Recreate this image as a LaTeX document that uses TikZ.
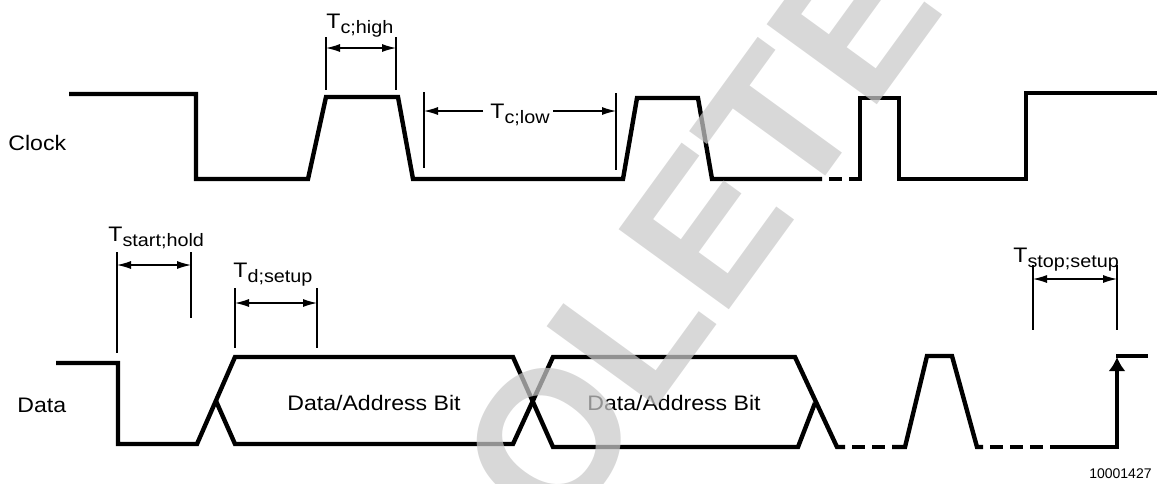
\documentclass[tikz,border=0pt]{standalone}
\usepackage{fontspec}
\setmainfont{Liberation Sans}[FakeStretch=1.1]
\newfontfamily\plainfont{Liberation Sans}
\usetikzlibrary{arrows.meta}
\newcommand{\tsub}[2]{#1\raisebox{-2.5pt}{\fontsize{9}{9}\selectfont #2}}
\newcommand{\tk}[3]{\draw[tickline] (#1,#2) -- (#1,#3);}

\begin{document}
\begin{tikzpicture}[x=0.5pt,y=-0.5pt,>={Latex[length=7pt,width=4pt]},
  wave/.style={line width=2.2pt,line join=miter},
  gaps/.style={wave,dash pattern=on 6.5pt off 3.5pt,dash phase=6.5pt},
  tickline/.style={line width=0.55pt},
  dimline/.style={line width=0.55pt,<->},
  every node/.style={inner sep=0pt,font=\fontsize{10.5}{12}\selectfont}]
  \useasboundingbox (0,0) rectangle (1168,483);
  % clock
  \node[anchor=base west] (clk) at (8,150) {Clock};
  \draw[wave] (69,94) -- (196,94) -- (196,179) -- (308,179) -- (326,97) -- (398,97) -- (413,179)
    -- (623,179) -- (637,98) -- (698,98) -- (712,179) -- (822,179);
  \draw[gaps] (822,179) -- (853,179);
  \draw[wave] (853,179) -- (860,179) -- (860,98) -- (899,98) -- (899,179) -- (1026,179) -- (1026,93) -- (1157,93);
  % data
  \node[anchor=base west] (dat) at (17,412) {Data};
  \draw[wave] (56,363) -- (118,363) -- (118,444) -- (197,444) -- (235,357) -- (513,357) -- (553,447)
    -- (798,447) -- (815,403);
  \draw[wave] (216,401) -- (235,444) -- (513,444) -- (553,357) -- (795,357) -- (837,447) -- (845,447);
  \draw[gaps] (845,447) -- (892,447);
  \draw[wave] (892,447) -- (905,447) -- (927,356) -- (952,356) -- (977,447) -- (983,447);
  \draw[gaps] (983,447) -- (1050,447);
  \draw[wave,-{Latex[length=7pt,width=8.5pt]}] (1050,447) -- (1117,447) -- (1117,357);
  \draw[wave] (1116,356) -- (1148,356);
  \node[anchor=base] (bit1) at (374,410) {Data/Address Bit};
  \node[anchor=base] (bit2) at (674,410) {Data/Address Bit};
  % Tc;high
  \tk{326}{37}{90} \tk{396}{37}{90}
  \coordinate (hiA) at (326,48); \coordinate (hiB) at (396,48);
  \draw[dimline] (hiA) -- (hiB);
  \node[anchor=base west] (thigh) at (326,28) {\tsub{T}{c;high}};
  % Tc;low
  \tk{424}{92}{168} \tk{616}{93}{170}
  \coordinate (loA) at (424,111); \coordinate (loB) at (616,111);
  \coordinate (loC) at (483,111); \coordinate (loD) at (553,111);
  \node[anchor=base west] (tlow) at (490,118) {\tsub{T}{c;low}};
  \draw[tickline,->] (loC) -- (loA);
  \draw[tickline,->] (loD) -- (loB);
  % Tstart;hold
  \tk{117}{252}{353} \tk{191}{252}{318}
  \coordinate (shA) at (117,265); \coordinate (shB) at (191,265);
  \draw[dimline] (shA) -- (shB);
  \node[anchor=base west] (thold) at (108,241) {\tsub{T}{start;hold}};
  % Td;setup
  \tk{235}{288}{348} \tk{317}{288}{348}
  \coordinate (dsA) at (235,303); \coordinate (dsB) at (317,303);
  \draw[dimline] (dsA) -- (dsB);
  \node[anchor=base west] (tdset) at (233,277) {\tsub{T}{d;setup}};
  % Tstop;setup
  \tk{1033}{265}{330} \tk{1117}{265}{330}
  \coordinate (ssA) at (1033,279); \coordinate (ssB) at (1117,279);
  \draw[dimline] (ssA) -- (ssB);
  \node[anchor=base west] (tstop) at (1013,262) {\tsub{T}{stop;setup}};
  \node[anchor=base east,font=\plainfont\fontsize{7}{8}\selectfont] (fig) at (1152,478) {10001427};
  % watermark
  \begin{scope}
    \clip (0,0) rectangle (1168,483);
    \node[anchor=base west,rotate=54,text=black!21,opacity=0.72,text opacity=0.72,
      font=\plainfont\bfseries\fontsize{99}{99}\selectfont] (obs) at (307,890) {OBSOLETE};
  \end{scope}
\end{tikzpicture}
\end{document}
